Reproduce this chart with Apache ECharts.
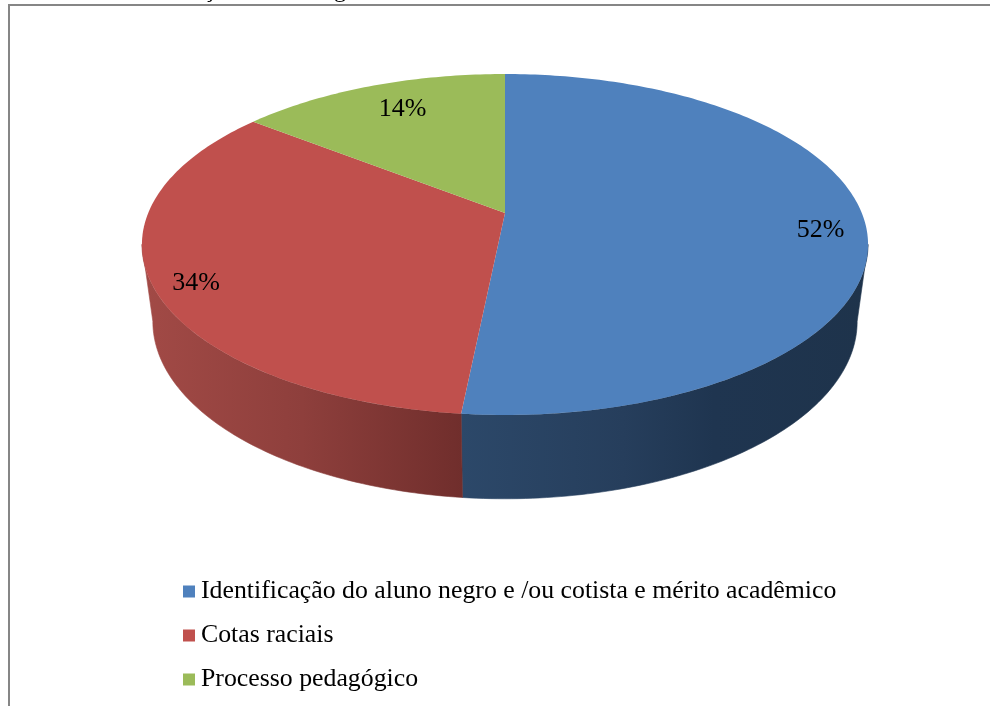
<!DOCTYPE html>
<html><head><meta charset="utf-8">
<style>html,body{margin:0;padding:0;background:#fff}#c{width:990px;height:706px}</style>
<script src="https://cdn.jsdelivr.net/npm/echarts@6/dist/echarts.min.js"></script>
</head><body><div id="c"></div>
<script>
const categories = ['Identificação do aluno negro e /ou cotista e mérito acadêmico', 'Cotas raciais', 'Processo pedagógico'];
const values = [51.6, 34, 14.4];
const colors = ['#4f81bd', '#c0504d', '#9bbb59'];
const sideStops = [
  [[0,'#2c4869'],[0.4,'#263e5c'],[0.62,'#1f3550'],[1,'#1e334b']],
  [[0,'#a24a46'],[0.5,'#8e3f3c'],[1,'#702e2c']],
  [[0,'#7d9748'],[1,'#5d7035']]
];
const labelNudge = [[3,10],[-4,10],[16,9]];

const total = values.reduce((a,b)=>a+b,0);
const CX=505, APEX_Y=213, A=125.3, C=-0.1848, R=356.8;
const ELL_CY=245, BOT_CY=322, BOT_SX=0.97, BOT_SY=1.04;
function proj(theta,r){
  const u=Math.sin(theta)*r, v=-Math.cos(theta)*r, w=1+C*v;
  return [CX+R*u/w,(A*v+APEX_Y)/w];
}
function bottom(p){ return [CX+BOT_SX*(p[0]-CX),BOT_CY+BOT_SY*(p[1]-ELL_CY)]; }
function startOf(i){ let s=0; for(let k=0;k<i;k++) s+=values[k]; return s; }
// Angles where the rim reaches its right and left extremes: only the arc between them faces the viewer.
let frontFrom=0, frontTo=Math.PI*2;
(function(){ let mx=-1e9,mn=1e9;
  for(let k=0;k<=3600;k++){ const t=k/3600*Math.PI*2, x=proj(t,1)[0];
    if(x>mx){mx=x;frontFrom=t;} if(x<mn){mn=x;frontTo=t;} } })();
function arc(a0,a1){ const n=Math.max(12,Math.ceil((a1-a0)*60)), out=[];
  for(let k=0;k<=n;k++) out.push(proj(a0+(a1-a0)*k/n,1)); return out; }

const series = categories.map((name,i)=>({
  type:'custom', name, coordinateSystem:'none',
  itemStyle:{color:colors[i]},
  data:[values[i]],
  renderItem(params,api){
    const v=api.value(0);
    const a0=startOf(i)/total*Math.PI*2, a1=a0+v/total*Math.PI*2;
    const children=[];
    const s0=Math.max(a0,frontFrom), s1=Math.min(a1,frontTo);
    if(s1>s0){
      const rim=arc(s0,s1);
      const grad=new echarts.graphic.LinearGradient(0,0,1,0,sideStops[i].map(s=>({offset:s[0],color:s[1]})));
      children.push({type:'polygon',z2:1,shape:{points:rim.concat(rim.map(bottom).reverse())},
        style:{fill:grad,stroke:grad,lineWidth:0.6}});
    }
    children.push({type:'polygon',z2:10,shape:{points:[[CX,APEX_Y]].concat(arc(a0,a1))},style:{fill:colors[i]}});
    const mid=proj((a0+a1)/2,0.87);
    children.push({type:'text',z2:20,x:mid[0]+labelNudge[i][0],y:mid[1]+labelNudge[i][1],
       style:{text:Math.round(v)+'%',fill:'#000',font:'26px "Liberation Serif"',align:'center',verticalAlign:'middle'}});
    return {type:'group',children};
  }
}));

const chart=echarts.init(document.getElementById('c'),null,{renderer:'canvas'});
chart.setOption({
  animation:false,
  backgroundColor:'#fff',
  legend:{
    orient:'vertical',left:183,top:577,padding:0,itemWidth:12,itemHeight:12,itemGap:15,
    icon:'rect',selectedMode:false,
    textStyle:{fontFamily:'Liberation Serif',fontSize:25.8,color:'#000',lineHeight:29,padding:[0,0,0,1]},
    data:categories
  },
  graphic:[
    {type:'polyline',silent:true,z:-1,shape:{points:[[9,706],[9,5],[990,5]]},
     style:{stroke:'#868686',lineWidth:2,fill:null}},
    {type:'text',silent:true,x:209,y:3,style:{text:'ç',font:'24px "Liberation Serif"',fill:'#000',align:'center',verticalAlign:'bottom'}},
    {type:'text',silent:true,x:340,y:3,style:{text:'g',font:'24px "Liberation Serif"',fill:'#000',align:'center',verticalAlign:'bottom'}}
  ],
  series
});
</script></body></html>
